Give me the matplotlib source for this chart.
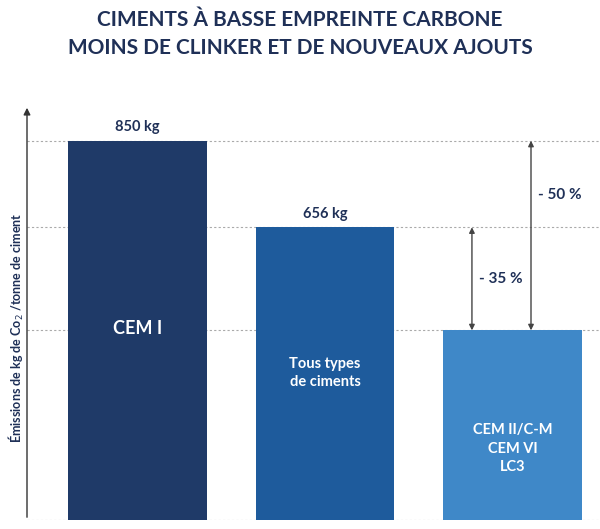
import matplotlib.pyplot as plt

categories = ["CEM I", "Tous types\nde ciments", "CEM II/C-M\nCEM VI\nLC3"]
values = [850, 656, 425]
value_labels = ["850 kg", "656 kg", None]
colors = ["#1f3a68", "#1e5b9c", "#3f88c8"]
reductions = [("- 35 %", 656), ("- 50 %", 850)]
navy = "#1f3057"

plt.rcParams["font.family"] = "Lato"
fig = plt.figure(figsize=(6, 5.29), dpi=100)
fig.text(0.5, 0.962, "CIMENTS À BASSE EMPREINTE CARBONE", ha="center", va="center",
         fontsize=15, fontweight="bold", color=navy)
fig.text(0.5, 0.909, "MOINS DE CLINKER ET DE NOUVEAUX AJOUTS", ha="center", va="center",
         fontsize=15, fontweight="bold", color=navy)

ax = fig.add_axes([0.045, 0.017, 0.955, 0.7845])
ax.set_xlim(-0.589, 2.467)
ax.set_ylim(0, 930)
for s in ax.spines.values():
    s.set_visible(False)
ax.set_xticks([])
ax.set_yticks([])

for v in [0] + values:
    ax.axhline(v, color="#aaaaaa", lw=0.8, ls=(0, (2, 2)), xmin=0.0, zorder=0)

x = range(len(values))
ax.bar(x, values, width=0.74, color=colors, zorder=2)
for i, (v, lab, cat) in enumerate(zip(values, value_labels, categories)):
    if lab:
        ax.text(i, v + 15, lab, ha="center", va="bottom", fontsize=10.5,
                fontweight="bold", color=navy)
    ypos = [430, 330, 160][i]
    ax.text(i, ypos, cat, ha="center", va="center", color="white",
            fontsize=13 if i == 0 else 10.5, fontweight="bold", linespacing=1.4)

# y axis with arrow
ax.annotate("", xy=(-0.589, 930), xytext=(-0.589, 0),
            arrowprops=dict(arrowstyle="-|>", color="#333333", lw=1), annotation_clip=False)
ax.text(-0.645, 430, "Émissions de kg de Co$_2$ /tonne de ciment", rotation=90,
        ha="center", va="center", fontsize=9, fontweight="bold", color=navy)

# reduction arrows
arrow_x = [1.784, 2.099]
for (lab, top), ax_x in zip(reductions, arrow_x):
    ax.annotate("", xy=(ax_x, top), xytext=(ax_x, values[2]),
                arrowprops=dict(arrowstyle="<|-|>", color="#444444", lw=1, mutation_scale=8,
                                shrinkA=0, shrinkB=0))
    ax.text(ax_x + 0.04, (top + values[2]) / 2 + (0 if top == 656 else 90), lab,
            ha="left", va="center", fontsize=11, fontweight="bold", color=navy)

fig.savefig("out.png", dpi=100)
